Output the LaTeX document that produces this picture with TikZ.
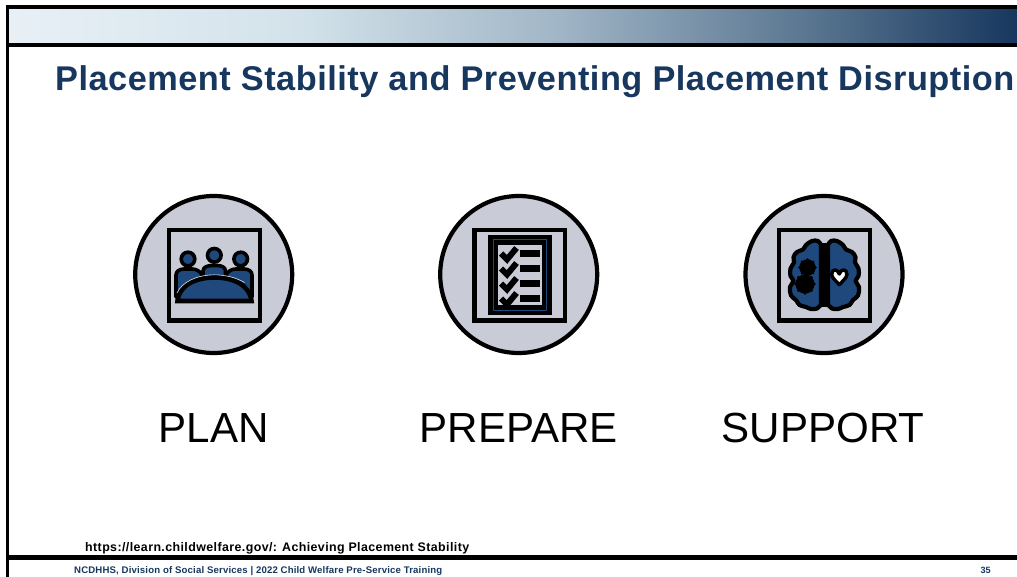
\documentclass[tikz,border=0pt]{standalone}
\usepackage{fontspec}
\setmainfont{Liberation Sans}
\newfontfamily\titlefont[LetterSpace=1.5]{Liberation Sans}
\newfontfamily\srcfont[LetterSpace=3.3]{Liberation Sans}
\newfontfamily\footfont[LetterSpace=1.7]{Liberation Sans}
\definecolor{navy}{HTML}{17375E}
\definecolor{iconblue}{HTML}{1F497D}
\definecolor{disc}{HTML}{C9CCD6}
\definecolor{hdrA}{HTML}{E8F0F6}
\definecolor{hdrB}{HTML}{D3E2EA}
\definecolor{hdrC}{HTML}{A0B5C6}
\definecolor{hdrD}{HTML}{5C7892}
\tikzset{
  ringdisc/.style={circle,draw=black,line width=4.2pt,fill=disc,minimum size=157pt,inner sep=0pt},
  iconframe/.style={draw=black,line width=4.2pt,fill=disc},
  bigword/.style={font=\fontsize{42.1}{42}\selectfont,text=black,inner sep=0pt},
  person/.style={draw=black,line width=3.6pt,fill=iconblue,line join=round},
  tick/.style={draw=black,line width=6pt,line join=miter},
  lobe/.style={draw=black,line width=4.2pt,fill=iconblue,line join=round},
}
\begin{document}
\begin{tikzpicture}[x=1pt,y=-1pt]
\useasboundingbox (0,0) rectangle (1017,577);
\fill[white] (0,0) rectangle (1017,577);
% header
\shade[left color=hdrA,right color=hdrB] (8,8) rectangle (300.5,44);
\shade[left color=hdrB,right color=hdrC] (300,8) rectangle (560.5,44);
\shade[left color=hdrC,right color=hdrD] (560,8) rectangle (800.5,44);
\shade[left color=hdrD,right color=navy] (800,8) rectangle (1017,44);
\fill[black] (6,5) rectangle (1017,9);
\fill[black] (6,43.3) rectangle (1017,47);
\fill[black] (6,5) rectangle (9,577);
\fill[black] (6,555) rectangle (1017,559.5);
\node[anchor=base west,inner sep=0pt,text=navy,font=\titlefont\bfseries\fontsize{34.3}{34}\selectfont] (title) at (55,91) {Placement Stability and Preventing Placement Disruption};
% discs
\node[ringdisc] (d1) at (213.7,274.5) {};
\node[ringdisc] (d2) at (518.7,274.5) {};
\node[ringdisc] (d3) at (824,274.5) {};
% frames
\draw[iconframe] (169.3,230.2) rectangle (259.8,320.5);
\draw[iconframe] (474.4,230.2) rectangle (565.2,320.5);
\draw[iconframe] (779.3,230.2) rectangle (869.6,320.5);
% plan icon
\draw[person] (176,297) -- (176,275) .. controls (176,271) and (180,269) .. (184,269) -- (192,269) .. controls (196,269) and (200,271) .. (202,275) -- (202,297) -- cycle;
\draw[person] (252,297) -- (252,275) .. controls (252,271) and (248,269) .. (244,269) -- (236,269) .. controls (232,269) and (228,271) .. (226,275) -- (226,297) -- cycle;
\draw[person] (203,282) -- (203,271) .. controls (203,267) and (208,265.5) .. (212,265.5) -- (217,265.5) .. controls (221,265.5) and (225.5,267) .. (225.5,271) -- (225.5,282) -- cycle;
\draw[person] (188,259) circle (6.8);
\draw[person] (214.3,255.3) circle (6.8);
\draw[person] (240.7,259) circle (6.8);
\draw[person,line width=4.6pt,line join=miter] (177.5,301) .. controls (179,285) and (196,277.5) .. (214.5,277.5) .. controls (233,277.5) and (250,285) .. (251.5,301) -- cycle;
\draw[draw=disc!60!white,line width=.6pt] (177,293) .. controls (182,282) and (197,274.8) .. (214.5,274.8) .. controls (226,274.8) and (237,278) .. (244.5,282.5);
% prepare icon
\fill[black] (488.3,235) rectangle (551.7,315);
\draw[iconblue,line width=1pt] (493.3,240) rectangle (546.7,310);
\fill[disc] (498.3,245) rectangle (541.7,305);
\foreach \yy in {0,1,2,3}{
  \fill[black] (520,250+15*\yy) rectangle (540,257.3+15*\yy);
  \draw[tick] (501,253.5+15*\yy) -- (507,259.5+15*\yy) -- (516.5,248+15*\yy);
}
% support icon
\draw[lobe] plot[smooth,tension=.6] coordinates {(821,245) (818,241) (812,241) (806,245) (803,249.5) (797,252) (793.5,257) (794,262.5) (790.5,268.5) (790.5,276) (793.5,281) (790,287) (791,295.5) (796,300) (799.5,305) (806,307) (811,309) (817,308.5) (821,304.5)} -- cycle;
\draw[lobe] plot[smooth,tension=.6] coordinates {(828,245) (831,241) (837,241) (843,245) (846,249.5) (852,252) (855.5,257) (855,262.5) (858.5,268.5) (858.5,276) (855.5,281) (859,287) (858,295.5) (853,300) (849.5,305) (843,307) (838,309) (832,308.5) (828,304.5)} -- cycle;
\fill[black] (821,243) rectangle (827.5,307);
\fill[black] (807.5,267.5) circle (8.2);
\fill[black] (805,284) circle (9.6);
\foreach \aa in {0,45,...,315}{
  \fill[black] (807.5,267.5) ++(\aa:7.8) circle (1.5);
  \fill[black] (805,284) ++(\aa:9.2) circle (1.6);
}
\draw[black,line width=3.4pt,fill=white,line join=round] (839.3,284.7) .. controls (836,281) and (831.9,278) .. (831.7,274.5) .. controls (831.3,268.5) and (838,268.5) .. (839.3,274) .. controls (840.6,268.5) and (847.3,268.5) .. (846.9,274.5) .. controls (846.7,278) and (842.6,281) .. (839.3,284.7) -- cycle;
% labels
\node[bigword,anchor=base] (l1) at (213.5,442.5) {PLAN};
\node[bigword,anchor=base] (l2) at (518.7,442.5) {PREPARE};
\node[bigword,anchor=base] (l3) at (823,442.5) {SUPPORT};
\node[anchor=base west,inner sep=0pt,font=\srcfont\bfseries\fontsize{12.4}{12}\selectfont] (src) at (85,551) {https://learn.childwelfare.gov/: Achieving Placement Stability};
\node[anchor=base west,inner sep=0pt,text=navy,font=\footfont\bfseries\fontsize{9.6}{9}\selectfont] (foot) at (74,573) {NCDHHS, Division of Social Services | 2022 Child Welfare Pre-Service Training};
\node[anchor=base east,inner sep=0pt,text=navy,font=\footfont\bfseries\fontsize{9.1}{9}\selectfont] (pg) at (991,573) {35};
\end{tikzpicture}
\end{document}
